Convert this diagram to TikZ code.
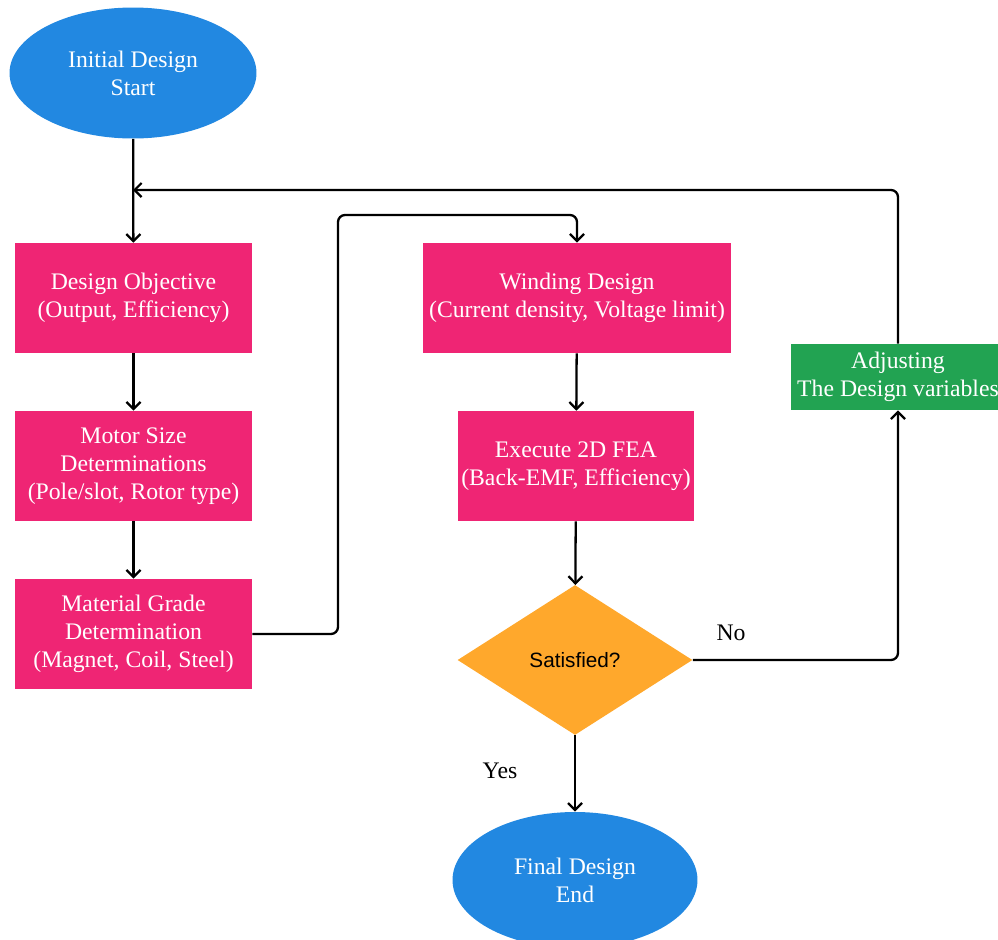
\documentclass[tikz,border=0pt]{standalone}
\usepackage{fontspec}
\setmainfont{Liberation Serif}
\newfontfamily\bodyfont{Liberation Serif}
\newfontfamily\decisionfont{Liberation Sans}
\usepackage{tikz}
\usetikzlibrary{shapes,arrows,positioning,calc,arrows.meta}
\definecolor{termblue}{HTML}{2288E1}
\definecolor{procpink}{HTML}{EF2574}
\definecolor{checkorange}{HTML}{FFA82C}
\definecolor{adjgreen}{HTML}{22A352}

\begin{document}
\begin{tikzpicture}[x=0.02cm, y=-0.02cm,
    terminal/.style={ellipse, fill=termblue, text=white, inner sep=0pt, align=center, font=\bodyfont\fontsize{13.5}{16}\selectfont},
    process/.style={rectangle, fill=procpink, text=white, minimum width=4.74cm, minimum height=2.2cm, inner sep=1pt, align=center, font=\bodyfont\fontsize{13.5}{16}\selectfont},
    decision/.style={diamond, fill=checkorange, minimum width=4.7cm, minimum height=3cm, inner sep=0pt, font=\decisionfont\fontsize{11.8}{14}\selectfont},
    adjust/.style={rectangle, fill=adjgreen, text=white, minimum width=4.28cm, minimum height=1.32cm, inner sep=1pt, align=center, font=\bodyfont\fontsize{13.5}{16}\selectfont},
    flow/.style={-{Straight Barb[length=4pt,width=8pt]}, line width=1.3pt, rounded corners=4}]
    \useasboundingbox (0,0) rectangle (998,940);
    \clip (0,0) rectangle (998,940);
    % left column
    \node[terminal, minimum width=4.94cm, minimum height=2.62cm] (start) at (133,73) {Initial Design\\Start};
    \node[process] (objective) at (133.5,298) {Design Objective\\(Output, Efficiency)};
    \node[process] (size) at (133.5,466) {Motor Size\\Determinations\\(Pole/slot, Rotor type)};
    \node[process] (grade) at (133.5,634) {Material Grade\\Determination\\(Magnet, Coil, Steel)};
    % middle column
    \node[process, minimum width=6.16cm] (winding) at (577,298) {Winding Design\\(Current density, Voltage limit)};
    \node[process] (fea) at (576,466) {Execute 2D FEA\\(Back-EMF, Efficiency)};
    \node[decision] (check) at (575,660) {Satisfied?};
    \node[terminal, minimum width=4.9cm, minimum height=2.72cm] (finish) at (575,880) {Final Design\\End};
    % right column
    \node[adjust] (adjusting) at (898,377) {Adjusting\\The Design variables};
    % labels
    \node[font=\bodyfont\fontsize{13.5}{16}\selectfont] (yes) at (500,771) {Yes};
    \node[font=\bodyfont\fontsize{13.5}{16}\selectfont] (no) at (731,633) {No};
    \coordinate (jog) at (338,215);
    \coordinate (merge) at (133,190);

    \draw[flow] (start) -- (objective);
    \draw[flow] (objective) -- (size);
    \draw[flow] (size) -- (grade);
    \draw[flow] (grade.east) -| (jog) -| (winding.north);
    \draw[flow] (winding) -- (fea);
    \draw[flow] (fea) -- (check);
    \draw[flow] (check) -- (finish);
    \draw[flow] (check.east) -| (adjusting.south);
    \draw[flow] (adjusting.north) |- (merge);
\end{tikzpicture}
\end{document}
